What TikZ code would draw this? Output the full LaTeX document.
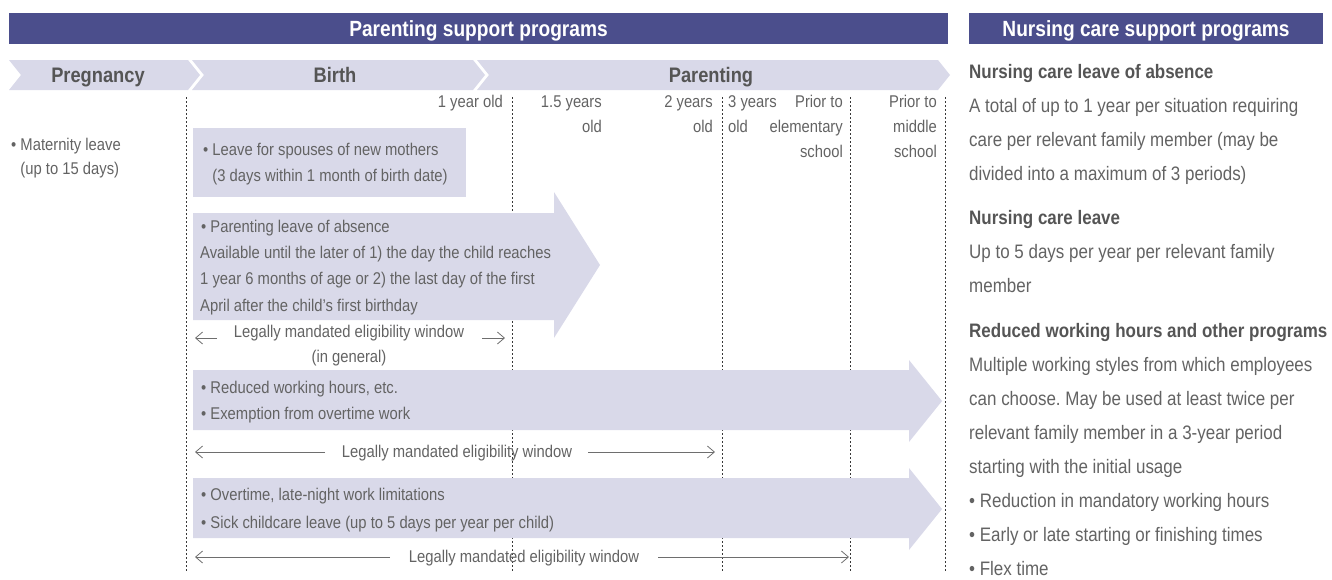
\documentclass[tikz,border=0pt]{standalone}
\usepackage{fontspec}
\setmainfont{Liberation Sans}[FakeStretch=0.87]
\usetikzlibrary{arrows.meta}
\definecolor{hdr}{HTML}{4B4E8C}
\definecolor{lav}{HTML}{D9D9E9}
\definecolor{txt}{HTML}{636363}
\definecolor{stg}{HTML}{555555}
\definecolor{arr}{HTML}{6E6E6E}
\definecolor{dsh}{HTML}{383838}
\frenchspacing
\begin{document}
\begin{tikzpicture}[x=1pt,y=-1pt,
  hdrbar/.style={fill=hdr,draw=none},
  hdrtext/.style={text=white,font=\fontsize{22}{26}\selectfont\bfseries,inner sep=0,anchor=base},
  chev/.style={fill=lav,draw=none},
  stagetext/.style={text=stg,font=\fontsize{21}{25}\selectfont\bfseries,inner sep=0,anchor=base},
  lt/.style={text=txt,font=\fontsize{17}{26}\selectfont,inner sep=0,anchor=base west},
  ltc/.style={text=txt,font=\fontsize{17}{26}\selectfont,inner sep=0,anchor=base},
  lte/.style={text=txt,font=\fontsize{17}{26}\selectfont,inner sep=0,anchor=base east},
  rt/.style={text=txt,font=\fontsize{19.5}{30}\selectfont,inner sep=0,anchor=base west},
  rh/.style={text=stg,font=\fontsize{19.5}{30}\selectfont\bfseries,inner sep=0,anchor=base west},
  boxshape/.style={fill=lav,draw=none},
  dashline/.style={draw=dsh,line width=0.8pt,dash pattern=on 2pt off 2pt},
  winarrow/.style={draw=arr,line width=0.8pt,-{Straight Barb[length=7pt,width=12pt]}}
]
\useasboundingbox (0,0) rectangle (1332,579);

% headers
\fill[hdrbar] (9,13) rectangle (948,44);
\fill[hdrbar] (969,13) rectangle (1323,44);
\node[hdrtext] (hparent) at (478.5,36.5) {Parenting support programs};
\node[hdrtext] (hnurse) at (1146,36.5) {Nursing care support programs};

% stage chevrons
\fill[chev] (9,60) -- (188,60) -- (200,75) -- (188,90) -- (9,90) -- (21,75) -- cycle;
\fill[chev] (192,60) -- (473,60) -- (485,75) -- (473,90) -- (192,90) -- (204,75) -- cycle;
\fill[chev] (477,60) -- (938,60) -- (950,75) -- (938,90) -- (477,90) -- (489,75) -- cycle;
\node[stagetext] (spreg) at (98,82.5) {Pregnancy};
\node[stagetext] (sbirth) at (335,82.5) {Birth};
\node[stagetext] (sparent) at (711,82.5) {Parenting};

% dashed age lines
\foreach \x/\n in {186/birth,512/one,722/two,850/elem,945/mid}{
  \coordinate (t\n) at (\x,97);
  \coordinate (b\n) at (\x,572);
  \draw[dashline] (t\n) -- (b\n);
}

% age labels
\node[lte] (a1) at (503,107) {1 year old};
\node[lte] (a15a) at (602,107) {1.5 years};
\node[lte] (a15b) at (602,132) {old};
\node[lte] (a2a) at (713,107) {2 years};
\node[lte] (a2b) at (713,132) {old};
\node[lt] (a3a) at (728,107) {3 years};
\node[lt] (a3b) at (728,132) {old};
\node[lte] (aea) at (843,107) {Prior to};
\node[lte] (aeb) at (843,132) {elementary};
\node[lte] (aec) at (843,157) {school};
\node[lte] (ama) at (937,107) {Prior to};
\node[lte] (amb) at (937,132) {middle};
\node[lte] (amc) at (937,157) {school};

% maternity
\node[lt] (mat1) at (11,150) {\textbullet\ Maternity leave};
\node[lt] (mat2) at (11,174) {\hphantom{\textbullet\ }(up to 15 days)};

% spouse box
\fill[boxshape] (193,128) rectangle (466,197);
\node[lt] (sp1) at (203,155) {\textbullet\ Leave for spouses of new mothers};
\node[lt] (sp2) at (203,181) {\hphantom{\textbullet\ }(3 days within 1 month of birth date)};

% parenting leave arrow
\fill[boxshape] (193,213) -- (554,213) -- (554,192) -- (600,265) -- (554,338) -- (554,320) -- (193,320) -- cycle;
\node[lt] (pl1) at (201,232) {\textbullet\ Parenting leave of absence};
\node[lt] (pl2) at (200,258) {Available until the later of 1) the day the child reaches};
\node[lt] (pl3) at (200,284) {1 year 6 months of age or 2) the last day of the first};
\node[lt] (pl4) at (200,311) {April after the child’s first birthday};

% legal window (in general)
\node[ltc] (lw1) at (349,337) {Legally mandated eligibility window};
\node[ltc] (lw1b) at (349,362) {(in general)};
\coordinate (lw1L) at (217,338);
\coordinate (lw1Le) at (195,338);
\coordinate (lw1R) at (482,338);
\coordinate (lw1Re) at (505,338);
\draw[winarrow] (lw1L) -- (lw1Le);
\draw[winarrow] (lw1R) -- (lw1Re);

% reduced working hours arrow
\fill[boxshape] (193,370) -- (909,370) -- (909,360) -- (942,401) -- (909,442) -- (909,430) -- (193,430) -- cycle;
\node[lt] (rw1) at (201,393) {\textbullet\ Reduced working hours, etc.};
\node[lt] (rw2) at (201,419) {\textbullet\ Exemption from overtime work};

% legal window 2
\node[ltc] (lw2) at (457,457) {Legally mandated eligibility window};
\coordinate (lw2L) at (325,452);
\coordinate (lw2Le) at (195,452);
\coordinate (lw2R) at (588,452);
\coordinate (lw2Re) at (715,452);
\draw[winarrow] (lw2L) -- (lw2Le);
\draw[winarrow] (lw2R) -- (lw2Re);

% overtime arrow
\fill[boxshape] (193,478) -- (909,478) -- (909,468) -- (942,509) -- (909,550) -- (909,538) -- (193,538) -- cycle;
\node[lt] (ot1) at (201,500) {\textbullet\ Overtime, late-night work limitations};
\node[lt] (ot2) at (201,528) {\textbullet\ Sick childcare leave (up to 5 days per year per child)};

% legal window 3
\node[ltc] (lw3) at (524,562) {Legally mandated eligibility window};
\coordinate (lw3L) at (390,557);
\coordinate (lw3Le) at (195,557);
\coordinate (lw3R) at (658,557);
\coordinate (lw3Re) at (849,557);
\draw[winarrow] (lw3L) -- (lw3Le);
\draw[winarrow] (lw3R) -- (lw3Re);

% right panel
\node[rh] (r0) at (969,78) {Nursing care leave of absence};
\node[rt] (r1) at (969,112) {A total of up to 1 year per situation requiring};
\node[rt] (r2) at (969,146) {care per relevant family member (may be};
\node[rt] (r3) at (969,180) {divided into a maximum of 3 periods)};
\node[rh] (r4) at (969,224) {Nursing care leave};
\node[rt] (r5) at (969,258) {Up to 5 days per year per relevant family};
\node[rt] (r6) at (969,292) {member};
\node[rh] (r7) at (969,337) {Reduced working hours and other programs};
\node[rt] (r8) at (969,371) {Multiple working styles from which employees};
\node[rt] (r9) at (969,405) {can choose. May be used at least twice per};
\node[rt] (r10) at (969,439) {relevant family member in a 3-year period};
\node[rt] (r11) at (969,473) {starting with the initial usage};
\node[rt] (r12) at (969,507) {\textbullet\ Reduction in mandatory working hours};
\node[rt] (r13) at (969,541) {\textbullet\ Early or late starting or finishing times};
\node[rt] (r14) at (969,575) {\textbullet\ Flex time};
\end{tikzpicture}
\end{document}
